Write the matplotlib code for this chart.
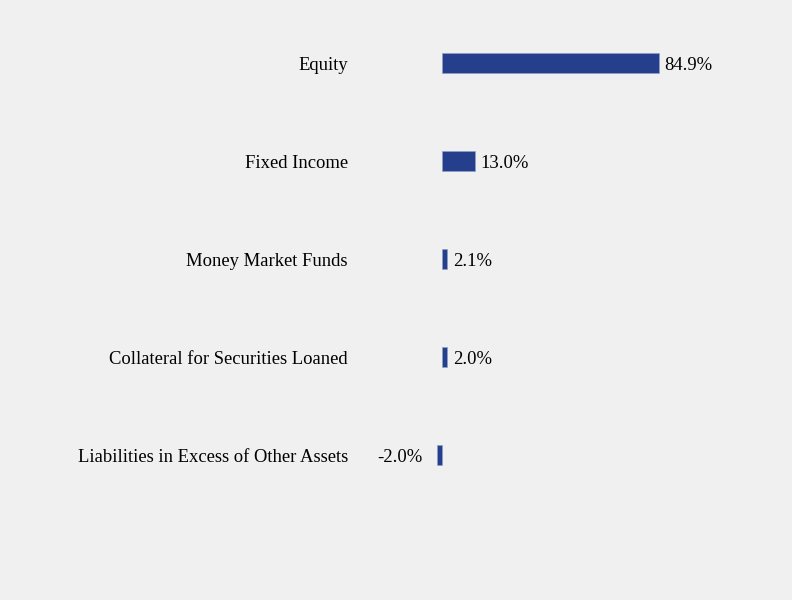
import matplotlib
matplotlib.use('Agg')
import matplotlib.pyplot as plt

categories = ["Equity", "Fixed Income", "Money Market Funds",
              "Collateral for Securities Loaned",
              "Liabilities in Excess of Other Assets"]
values = [84.9, 13.0, 2.1, 2.0, -2.0]
labels = ["84.9%", "13.0%", "2.1%", "2.0%", "-2.0%"]

plt.rcParams['font.family'] = ['Liberation Serif', 'DejaVu Serif']
fontsize = 13.4
bg = '#f0f0f0'
bar_color = '#253f8c'

fig = plt.figure(figsize=(7.92, 6.0), dpi=100)
fig.patch.set_facecolor(bg)
# axes placed in pixel terms: left 360, right 760, top 14, bottom 504
ax = fig.add_axes([359/792, 96/600, 400/792, 490/600])
ax.patch.set_facecolor(bg)

ypos = list(range(len(categories)))
ax.barh(ypos, values, height=0.205, color=bar_color, edgecolor='#8ea0c8', linewidth=0.4)

for y, v, lab in zip(ypos, values, labels):
    if v >= 0:
        ax.annotate(lab, xy=(v, y), xytext=(4.0, 0), textcoords='offset points',
                    ha='left', va='center_baseline', fontsize=fontsize, color='black')
    else:
        ax.annotate(lab, xy=(v, y), xytext=(-10.5, 0), textcoords='offset points',
                    ha='right', va='center_baseline', fontsize=fontsize, color='black')

ax.set_yticks(ypos)
ax.set_yticklabels(categories, fontsize=fontsize, va='center_baseline')
ax.tick_params(axis='y', length=0, pad=8.0)
ax.set_xticks([])
ax.set_xlim(-32.47, 124.0)
ax.set_ylim(4.5, -0.5)
for s in ax.spines.values():
    s.set_visible(False)

fig.savefig('out.png', dpi=100, facecolor=bg)
